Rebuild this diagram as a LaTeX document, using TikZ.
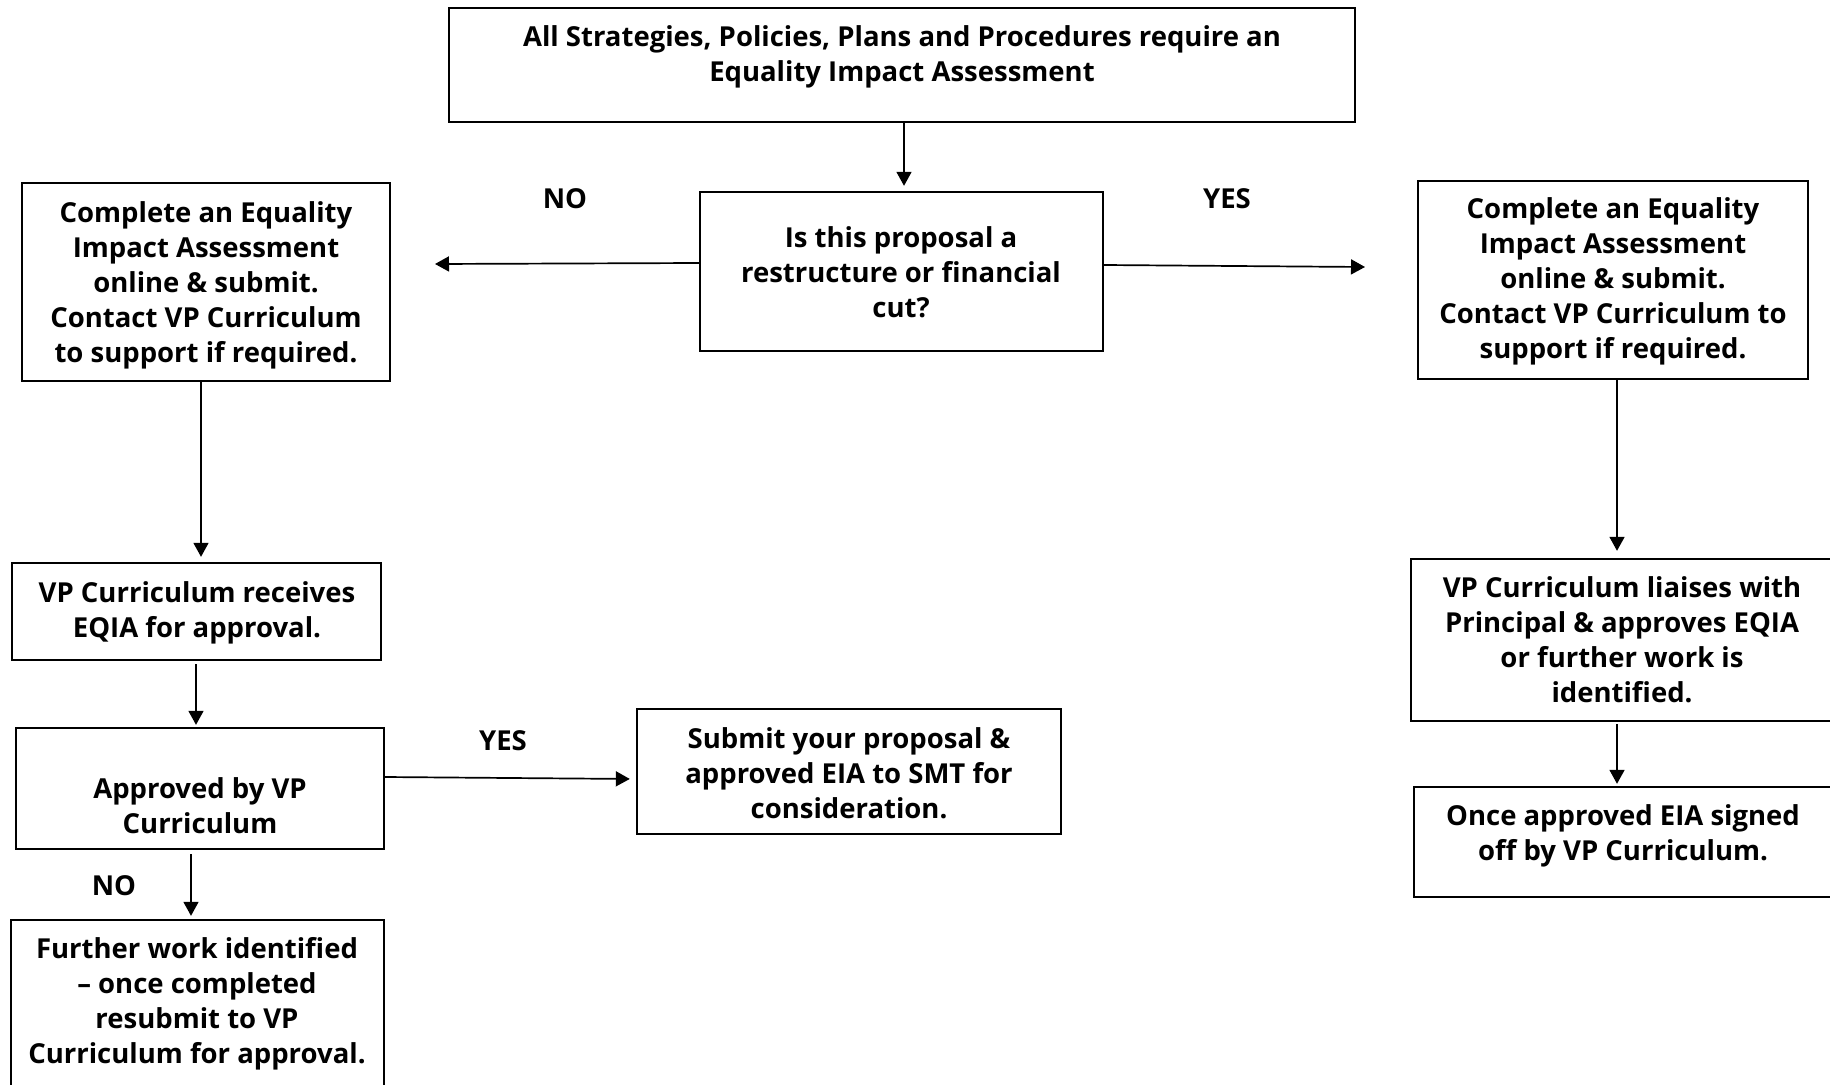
\documentclass[tikz,border=0pt]{standalone}
\usepackage{fontspec}
\setmainfont{Open Sans}
\usetikzlibrary{arrows.meta}
\tikzset{
  box/.style={draw=black, line width=2.4pt, fill=white, inner sep=0pt, anchor=center},
  txt/.style={align=center, inner sep=0pt, anchor=north, font=\fontsize{27.5}{35}\selectfont\bfseries},
  lbl/.style={inner sep=0pt, anchor=center, font=\fontsize{27.5}{35}\selectfont\bfseries},
  arr/.style={line width=1.7pt, -{Triangle[width=15pt,length=14pt]}},
}
\begin{document}
\begin{tikzpicture}[x=1pt,y=-1pt]
\useasboundingbox (0,0) rectangle (1830,1084);
\clip (0,0) rectangle (1830,1084);
\fill[white] (0,0) rectangle (1830,1084);
% boxes
\node[box, minimum width=906pt, minimum height=114pt] (top) at (902,65) {};
\node[box, minimum width=403pt, minimum height=159pt] (dec) at (901.5,271.5) {};
\node[box, minimum width=368pt, minimum height=198pt] (left1) at (206,282) {};
\node[box, minimum width=390pt, minimum height=198pt] (right1) at (1613,280) {};
\node[box, minimum width=369pt, minimum height=97pt] (vprec) at (196.5,611.5) {};
\node[box, minimum width=368pt, minimum height=121pt] (appr) at (200,788.5) {};
\node[box, minimum width=424pt, minimum height=125pt] (submit) at (849,771.5) {};
\node[box, minimum width=373pt, minimum height=180pt] (further) at (197.5,1010) {};
\node[box, minimum width=429pt, minimum height=162pt] (liaise) at (1625.5,640) {};
\node[box, minimum width=426pt, minimum height=110pt] (once) at (1627,842) {};
% texts
\node[txt] (ttop) at (902,21.5) {\strut All Strategies, Policies, Plans and Procedures require an\\\strut Equality Impact Assessment};
\node[txt] (tdec) at (901,222.5) {\strut Is this proposal a\\\strut restructure or financial\\\strut cut?};
\node[txt] (tleft1) at (206,197.5) {\strut Complete an Equality\\\strut Impact Assessment\\\strut online \& submit.\\\strut Contact VP Curriculum\\\strut to support if required.};
\node[txt] (tright1) at (1613,193.5) {\strut Complete an Equality\\\strut Impact Assessment\\\strut online \& submit.\\\strut Contact VP Curriculum to\\\strut support if required.};
\node[txt] (tvprec) at (197,577.5) {\strut VP Curriculum receives\\\strut EQIA for approval.};
\node[txt] (tappr) at (200,773.5) {\strut Approved by VP\\\strut Curriculum};
\node[txt] (tsubmit) at (849,723.5) {\strut Submit your proposal \&\\\strut approved EIA to SMT for\\\strut consideration.};
\node[txt] (tfurther) at (197,933.5) {\strut Further work identified\\\strut -- once completed\\\strut resubmit to VP\\\strut Curriculum for approval.};
\node[txt] (tliaise) at (1622,572.5) {\strut VP Curriculum liaises with\\\strut Principal \& approves EQIA\\\strut or further work is\\\strut identified.};
\node[txt] (tonce) at (1623,800.5) {\strut Once approved EIA signed\\\strut off by VP Curriculum.};
% labels
\node[lbl] (lno1) at (565,199) {NO};
\node[lbl] (lyes1) at (1227,199) {YES};
\node[lbl] (lyes2) at (503,741) {YES};
\node[lbl] (lno2) at (114,886) {NO};
% free ends
\coordinate (noend) at (435,264);
\coordinate (yesend) at (1365,267);
% connectors
\draw[arr, shorten >=5pt] ([xshift=2pt]top.south) -- ([xshift=2pt]top.south |- dec.north);
\draw[arr] ([yshift=8.5pt]dec.west) -- (noend);
\draw[arr] ([yshift=6.5pt]dec.east) -- (yesend);
\draw[arr, shorten >=5pt] ([xshift=-5pt]left1.south) -- ([xshift=-5pt]left1.south |- vprec.north);
\draw[arr, shorten <=3pt, shorten >=2pt] ([xshift=-0.5pt]vprec.south) -- ([xshift=-0.5pt]vprec.south |- appr.north);
\draw[arr, shorten >=6pt] ([yshift=11.5pt]appr.east) -- ([yshift=9.5pt]appr.east -| submit.west);
\draw[arr, shorten <=4pt, shorten >=3pt] ([xshift=-9pt]appr.south) -- ([xshift=-9pt]appr.south |- further.north);
\draw[arr, shorten >=7pt] ([xshift=4pt]right1.south) -- ([xshift=4pt]right1.south |- liaise.north);
\draw[arr, shorten <=2pt, shorten >=2pt] ([xshift=4pt]right1.south |- liaise.south) -- ([xshift=4pt]right1.south |- once.north);
\end{tikzpicture}
\end{document}
